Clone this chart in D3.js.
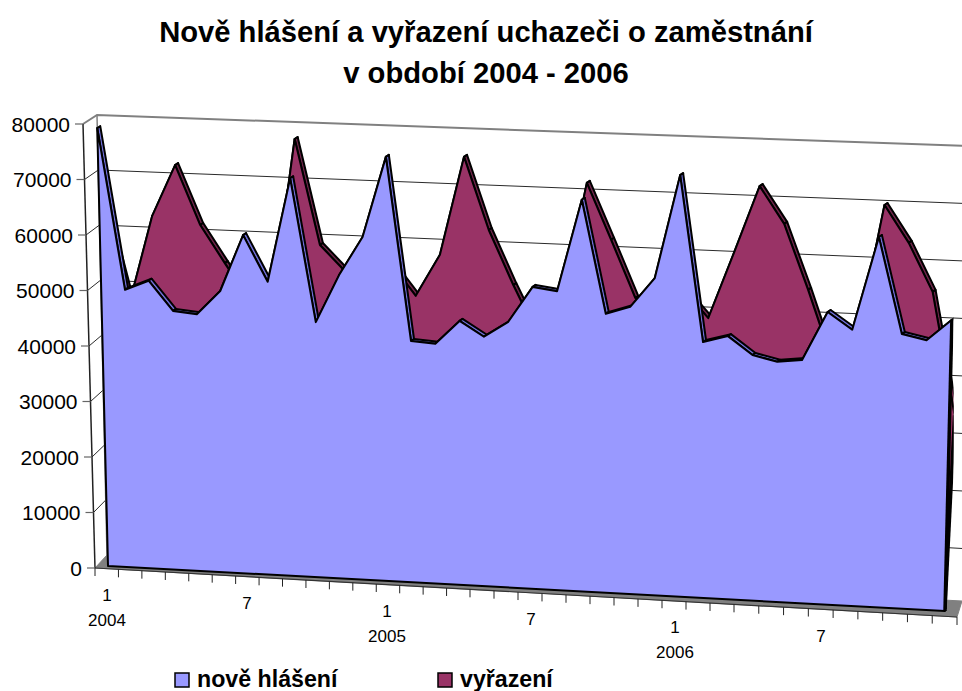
<!DOCTYPE html>
<html><head><meta charset="utf-8">
<script src="https://cdnjs.cloudflare.com/ajax/libs/d3/7.8.5/d3.min.js"></script>
<style>html,body{margin:0;padding:0;background:#fff}svg{display:block}text{font-family:"Liberation Sans",Arial,sans-serif;fill:#000}</style>
</head><body><svg id="c" width="962" height="691"></svg>
<script>
const titleLines = ["Nově hlášení a vyřazení uchazeči o zaměstnání", "v období 2004 - 2006"];
const seriesNames = ["nově hlášení", "vyřazení"];
const noveHlaseni = [78200,49500,51300,46100,45700,50000,60100,52000,70500,45200,53700,60600,
  74900,42600,42300,46500,43900,46700,53000,52400,68600,48800,50200,55400,
  73500,44600,45800,42700,41700,42200,50700,47800,64000,47400,46500,50200];
const vyrazeni = [65000,47300,62500,71700,61200,54600,48200,48400,77100,58500,54200,47300,
  55600,50200,57600,75000,62300,52800,44200,50500,71200,61400,51400,51200,
  53100,48400,59900,71700,65300,54000,42000,45700,69200,62800,54500,33400];
const valueTicks = [0,10000,20000,30000,40000,50000,60000,70000,80000];
const monthLabels = [{i:0,t:"1",y:"2004"},{i:6,t:"7"},{i:12,t:"1",y:"2005"},{i:18,t:"7"},{i:24,t:"1",y:"2006"},{i:30,t:"7"}];
const colors = ["#9999FF","#993366"], sideColors = ["#6F6FD8","#6E2449"];

const svg = d3.select("#c");
const months = d3.range(36);

svg.append("defs").append("clipPath").attr("id","plotClip")
  .append("rect").attr("x",0).attr("y",0).attr("width",953.5).attr("height",691);

// skewed pseudo-3D projection built from scales
const baseX = d3.scaleLinear().domain([0,13,25,35]).range([108,412.5,700.4,945]);
const topX  = d3.scaleLinear().domain([0,13,25,35]).range([97,409.7,705.1,956]);
const baseY = d3.scaleLinear().domain([0,35]).range([566,611]);
const topY  = d3.scaleLinear().domain([0,35]).range([118,147]);
const frac  = d3.scaleLinear().domain([0,80000]).range([0,1]);
const P = (m,v,dx=0,dy=0) => {
  const f = frac(v);
  return [baseX(m)+(topX(m)-baseX(m))*f+dx, baseY(m)+(topY(m)-baseY(m))*f+dy];
};
// axis / wall scales
const axisFrontX = d3.scaleLinear().domain([0,80000]).range([95,83]);
const axisFrontY = d3.scaleLinear().domain([0,80000]).range([568,124]);
const backLX = d3.scaleLinear().domain([0,80000]).range([107,97]);
const backLY = d3.scaleLinear().domain([0,80000]).range([555,115]);
const backRX = d3.scaleLinear().domain([0,80000]).range([962,966]);
const backRY = d3.scaleLinear().domain([0,80000]).range([606,146]);
const tickX = d3.scaleLinear().domain([0,16,27,36]).range([95,470,734,957]);
const tickY = d3.scaleLinear().domain([95,957]).range([568,617]);
const labelX = d3.scaleLinear().domain([0,12,24,30]).range([107,387,675,821]);
const line = d3.line();
const poly = pts => line(pts)+"Z";

// title
svg.append("g").selectAll("text").data(titleLines).join("text")
  .attr("x",486).attr("y",(d,i)=>42+i*41).attr("text-anchor","middle")
  .attr("font-size",29.2).attr("font-weight","bold").text(d=>d);

// floor
svg.append("path").attr("fill","#808080").attr("stroke","#808080")
  .attr("d",poly([[axisFrontX(0),axisFrontY(0)],[backLX(0),backLY(0)],[backRX(0),601],[957,617]]));

// walls + grid
const grid = svg.append("g");
grid.selectAll("path.g").data(valueTicks.filter(v=>v>0)).join("path").attr("class","g").attr("fill","none")
  .attr("stroke",d=>d===80000?"#808080":"#2a2a2a").attr("stroke-width",d=>d===80000?2:1)
  .attr("d",d=>line([[axisFrontX(d),axisFrontY(d)],[backLX(d),backLY(d)],[backRX(d),backRY(d)]]));
grid.append("path").attr("fill","none").attr("stroke","#808080").attr("stroke-width",1.5)
  .attr("d",line([[backLX(80000),backLY(80000)],[backLX(0),backLY(0)]]));
grid.append("path").attr("fill","none").attr("stroke","#222").attr("stroke-width",1.5)
  .attr("d",line([[axisFrontX(80000),axisFrontY(80000)],[axisFrontX(0),axisFrontY(0)]]));
grid.selectAll("line.yt").data(valueTicks).join("line").attr("class","yt")
  .attr("x1",d=>axisFrontX(d)-8).attr("x2",d=>axisFrontX(d))
  .attr("y1",d=>axisFrontY(d)).attr("y2",d=>axisFrontY(d)).attr("stroke","#666").attr("stroke-width",1.2);
grid.selectAll("text").data(valueTicks).join("text")
  .attr("x",d=>axisFrontX(d)-13).attr("y",d=>axisFrontY(d)+7.5).attr("text-anchor","end")
  .attr("font-size",21).text(d=>d);

// x axis
const ax = svg.append("g");
ax.append("path").attr("stroke","#333").attr("stroke-width",1.2).attr("fill","none")
  .attr("d",line([[tickX(0),tickY(tickX(0))],[tickX(36),tickY(tickX(36))]]));
ax.selectAll("line").data(d3.range(37)).join("line")
  .attr("x1",d=>tickX(d)).attr("x2",d=>tickX(d))
  .attr("y1",d=>tickY(tickX(d))).attr("y2",d=>tickY(tickX(d))+8)
  .attr("stroke","#222").attr("stroke-width",1);
const lab = ax.selectAll("g").data(monthLabels).join("g");
lab.append("text").attr("x",d=>labelX(d.i)).attr("y",d=>tickY(labelX(d.i))+32.5)
  .attr("text-anchor","middle").attr("font-size",17).text(d=>d.t);
lab.filter(d=>d.y).append("text").attr("x",d=>labelX(d.i)).attr("y",d=>tickY(labelX(d.i))+57.5)
  .attr("text-anchor","middle").attr("font-size",17).text(d=>d.y);

// area series with thin depth strip
function drawSeries(vals,color,side,dx,dy){
  const g = svg.append("g").attr("clip-path","url(#plotClip)");
  const front = months.map(m=>P(m,vals[m],dx,dy));
  const back = months.map(m=>P(m,vals[m],dx+3,dy-2));
  const b0 = P(0,0,dx,dy), b1 = P(35,0,0,dy);
  g.selectAll("path.s").data(d3.pairs(months)).join("path").attr("class","s")
    .attr("fill",side).attr("stroke","#000").attr("stroke-width",2).attr("stroke-linejoin","round")
    .attr("d",([a,b])=>poly([front[a],front[b],back[b],back[a]]));
  g.append("path").attr("fill",color).attr("stroke","#000").attr("stroke-width",2).attr("stroke-linejoin","round")
    .attr("d",poly([b0,...front,b1]));
  // right end face reads as a heavy black edge
  g.append("path").attr("fill","none").attr("stroke","#000").attr("stroke-width",3.5)
    .attr("d",line([front[35],b1]));
}
drawSeries(vyrazeni,colors[1],sideColors[1],5,-2);
drawSeries(noveHlaseni,colors[0],sideColors[0],0,0);

// legend
const legendX = [175,438], legendTextX=[197,460];
const leg = svg.append("g").selectAll("g").data(seriesNames).join("g");
leg.append("rect").attr("x",(d,i)=>legendX[i]).attr("y",673).attr("width",14).attr("height",14)
  .attr("fill",(d,i)=>colors[i]).attr("stroke","#000").attr("stroke-width",1.5);
leg.append("text").attr("x",(d,i)=>legendTextX[i]).attr("y",687).attr("font-size",23.2).attr("font-weight","bold").text(d=>d);
</script></body></html>
